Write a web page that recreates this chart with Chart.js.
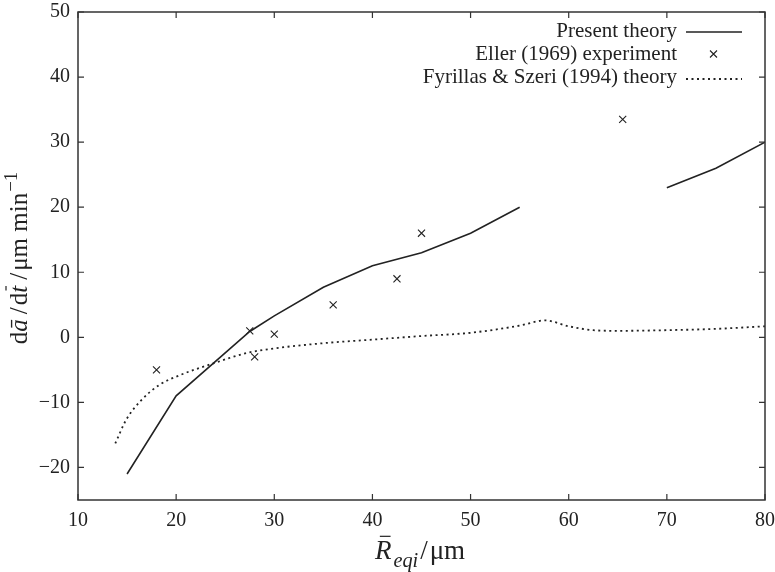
<!DOCTYPE html>
<html>
<head>
<meta charset="utf-8">
<script src="https://cdn.jsdelivr.net/npm/chart.js@4.4.1/dist/chart.umd.min.js"></script>
<style>
  html, body { margin: 0; padding: 0; background: #fff; }
  #wrap { width: 775px; height: 572px; }
</style>
</head>
<body>
<div id="wrap"><canvas id="grafico" width="775" height="572"></canvas></div>
<script>
  // valores
  const xTicks = [10, 20, 30, 40, 50, 60, 70, 80];
  const yTicks = [-20, -10, 0, 10, 20, 30, 40, 50];

  const presenteX = [15, 20, 27.5, 30, 35, 40, 45, 50, 55, 62.5, 70, 75, 80];
  const presenteY = [-21, -9, 0.9, 3.3, 7.7, 11, 13, 16, 20, null, 23, 26, 30];

  const ellerX = [18, 27.5, 28, 30, 36, 42.5, 45, 65.5];
  const ellerY = [-5, 1, -3, 0.5, 5, 9, 16, 33.5];

  const fyrX = [13.8, 14.9, 16.3, 18.3, 20.4, 23.8, 27.2, 30, 35, 40, 45, 50, 55, 57.6, 60, 62.5, 65, 70, 75, 80];
  const fyrY = [-16.3, -12.7, -9.9, -7.3, -5.8, -4.0, -2.4, -1.7, -0.9, -0.35, 0.2, 0.7, 1.8, 2.6, 1.7, 1.1, 1.0, 1.1, 1.3, 1.7];

  const legendas = ['Present theory', 'Eller (1969) experiment', 'Fyrillas & Szeri (1994) theory'];

  const pares = (xs, ys) => xs.map((x, i) => ({ x: x, y: ys[i] }));

  const cor = '#222';
  const fonte = '"Liberation Serif", "DejaVu Serif", serif';
  Chart.defaults.font.family = fonte;
  Chart.defaults.color = cor;

  // mede texto com partes em italico, subscrito, sobrescrito e barra
  function textoRico(ctx, partes, tam) {
    let w = 0;
    partes.forEach(p => {
      const s = p.sub || p.sup ? tam * 0.75 : tam;
      ctx.font = (p.it ? 'italic ' : '') + s + 'px ' + fonte;
      p.w = ctx.measureText(p.t).width + (p.gap || 0);
      p.s = s;
      w += p.w;
    });
    return w;
  }

  function desenhaRico(ctx, partes, tam, x0, y0) {
    let x = x0;
    partes.forEach(p => {
      ctx.font = (p.it ? 'italic ' : '') + p.s + 'px ' + fonte;
      let y = y0;
      if (p.sub) y += tam * 0.3;
      if (p.sup) y -= tam * 0.4;
      ctx.fillText(p.t, x, y);
      if (p.bar) {
        const bw = ctx.measureText(p.t).width;
        ctx.beginPath();
        ctx.lineWidth = 1.2;
        ctx.moveTo(x + bw * 0.3, y - tam * (p.bar));
        ctx.lineTo(x + bw * 0.95, y - tam * (p.bar));
        ctx.stroke();
      }
      x += p.w;
    });
  }

  const molduraPlugin = {
    id: 'moldura',
    afterDraw(chart) {
      const ctx = chart.ctx;
      const a = chart.chartArea;
      const xs = chart.scales.x, ys = chart.scales.y;
      ctx.save();
      ctx.strokeStyle = '#333';
      ctx.lineWidth = 1.5;
      ctx.strokeRect(a.left, a.top, a.right - a.left, a.bottom - a.top);
      ctx.lineWidth = 1.2;
      ctx.beginPath();
      xTicks.forEach(v => {
        const px = xs.getPixelForValue(v);
        ctx.moveTo(px, a.bottom); ctx.lineTo(px, a.bottom - 6);
        ctx.moveTo(px, a.top); ctx.lineTo(px, a.top + 6);
      });
      yTicks.forEach(v => {
        const py = ys.getPixelForValue(v);
        ctx.moveTo(a.left, py); ctx.lineTo(a.left + 6, py);
        ctx.moveTo(a.right, py); ctx.lineTo(a.right - 6, py);
      });
      ctx.stroke();

      // legenda
      ctx.fillStyle = cor;
      ctx.strokeStyle = cor;
      ctx.font = '21px ' + fonte;
      ctx.textAlign = 'right';
      ctx.textBaseline = 'middle';
      const tx = 677, ys0 = [31, 54, 77];
      legendas.forEach((t, i) => ctx.fillText(t, tx, ys0[i]));
      ctx.lineWidth = 1.5;
      ctx.beginPath();
      ctx.moveTo(686, ys0[0] + 1); ctx.lineTo(742, ys0[0] + 1);
      ctx.stroke();
      ctx.lineWidth = 1.1;
      ctx.beginPath();
      ctx.moveTo(710, ys0[1] - 3.5); ctx.lineTo(717, ys0[1] + 3.5);
      ctx.moveTo(717, ys0[1] - 3.5); ctx.lineTo(710, ys0[1] + 3.5);
      ctx.stroke();
      ctx.lineWidth = 1.8;
      ctx.setLineDash([2, 3.5]);
      ctx.beginPath();
      ctx.moveTo(686, ys0[2] + 2); ctx.lineTo(742, ys0[2] + 2);
      ctx.stroke();
      ctx.setLineDash([]);

      // titulos dos eixos
      ctx.textAlign = 'left';
      ctx.textBaseline = 'alphabetic';
      const tx2 = 27;
      const px = [
        { t: 'R', it: true, bar: 0.84, gap: 2 },
        { t: 'eqi', it: true, sub: true, gap: 2 },
        { t: '/', gap: 2 },
        { t: '\u03bcm' }
      ];
      const wx = textoRico(ctx, px, tx2);
      desenhaRico(ctx, px, tx2, 420 - wx / 2, 559);

      const tam = 25;
      const py = [
        { t: 'd' },
        { t: '\u0101', it: true, gap: 5 },
        { t: '/', gap: 2 },
        { t: 'd' },
        { t: 't', it: true, bar: 0.84, gap: 6 },
        { t: '/', gap: 2 },
        { t: '\u03bcm min', gap: 1 },
        { t: '\u22121', sup: true }
      ];
      const wy = textoRico(ctx, py, tam);
      ctx.translate(27, 258);
      ctx.rotate(-Math.PI / 2);
      desenhaRico(ctx, py, tam, -wy / 2, 0);
      ctx.restore();
    }
  };

  const ctx = document.getElementById('grafico').getContext('2d');

  const grafico = new Chart(ctx, {
    type: 'line',
    data: {
      datasets: [
        {
          label: legendas[0],
          data: pares(presenteX, presenteY),
          borderColor: cor,
          borderWidth: 1.6,
          pointRadius: 0,
          fill: false,
          spanGaps: false,
          tension: 0
        },
        {
          label: legendas[1],
          data: pares(ellerX, ellerY),
          showLine: false,
          pointStyle: 'crossRot',
          pointRadius: 5,
          pointBorderWidth: 1.1,
          pointBorderColor: cor,
          borderColor: cor
        },
        {
          label: legendas[2],
          data: pares(fyrX, fyrY),
          borderColor: cor,
          borderWidth: 1.8,
          borderDash: [2, 3.5],
          pointRadius: 0,
          fill: false,
          cubicInterpolationMode: 'monotone'
        }
      ]
    },
    options: {
      responsive: false,
      animation: false,
      layout: { padding: { left: 0, top: 12, right: 10, bottom: 0 } },
      plugins: {
        legend: { display: false },
        tooltip: { enabled: false }
      },
      scales: {
        x: {
          type: 'linear',
          min: 10,
          max: 80,
          grid: { display: false, drawTicks: false },
          border: { display: false },
          afterBuildTicks: s => { s.ticks = xTicks.map(v => ({ value: v })); },
          afterFit: s => { s.height = 72; s.paddingLeft = 0; s.paddingRight = 0; },
          ticks: {
            padding: 9,
            maxRotation: 0,
            font: { size: 20 },
            color: cor
          }
        },
        y: {
          type: 'linear',
          min: -25,
          max: 50,
          grid: { display: false, drawTicks: false },
          border: { display: false },
          afterBuildTicks: s => { s.ticks = yTicks.map(v => ({ value: v })); },
          afterFit: s => { s.width = 78; s.paddingTop = 0; s.paddingBottom = 0; },
          ticks: {
            padding: 8,
            font: { size: 20 },
            color: cor,
            callback: v => String(v).replace('-', '\u2212')
          }
        }
      }
    },
    plugins: [molduraPlugin]
  });
</script>
</body>
</html>
